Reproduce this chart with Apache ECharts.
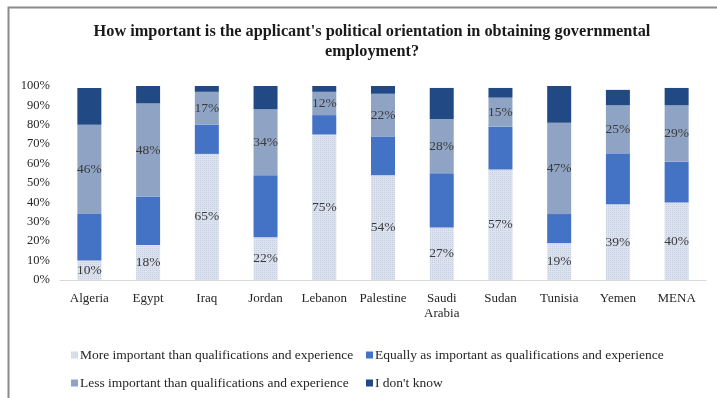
<!DOCTYPE html>
<html>
<head>
<meta charset="utf-8">
<script src="https://cdn.jsdelivr.net/npm/echarts@6/dist/echarts.min.js"></script>
<style>
html,body{margin:0;padding:0;background:#fff;}
#chart{width:717px;height:398px;}
</style>
</head>
<body>
<div id="chart"></div>
<script>
const categories = ['Algeria','Egypt','Iraq','Jordan','Lebanon','Palestine','Saudi\nArabia','Sudan','Tunisia','Yemen','MENA'];
const seriesNames = [
  'More important than qualifications and experience',
  'Equally as important as qualifications and experience',
  'Less important than qualifications and experience',
  "I don't know"
];
const moreImportant = [10,18,65,22,75,54,27,57,19,39,40];
const equallyImportant = [24,25,15,32,10,20,28,22,15,26,21];
const lessImportant = [46,48,17,34,12,22,28,15,47,25,29];
const dontKnow = [19,9,3,12,3,4,16,5,19,8,9];
const yTicks = [0,10,20,30,40,50,60,70,80,90,100];

const FONT = '"Liberation Serif", "DejaVu Serif", serif';
const colors = ['#dde3ee','#4472c4','#8fa4c4','#214a84'];

const chart = echarts.init(document.getElementById('chart'));

function mkSeries(i, data, showLabel){
  const s = {
    name: seriesNames[i],
    type: 'bar',
    stack: 'total',
    data: data,
    barWidth: 24,
    itemStyle: {color: colors[i]},
    label: {
      show: showLabel,
      position: 'inside',
      formatter: p => p.value + '%',
      fontFamily: FONT,
      fontSize: 13.5,
      color: '#3a3a3a'
    }
  };
  if (i === 0) {
    s.itemStyle.decal = {
      symbol: 'rect',
      symbolSize: 1,
      dashArrayX: [1, 1],
      dashArrayY: [1, 1],
      rotation: 0,
      color: 'rgba(170,182,205,0.45)'
    };
  }
  return s;
}

const legendBase = {
  icon: 'rect', itemWidth: 7, itemHeight: 7, itemGap: 10,
  textStyle: {fontFamily: FONT, fontSize: 13.5, color: '#262626', padding: [0,0,0,-3]}
};

chart.setOption({
  backgroundColor: '#fff',
  animation: false,
  title: {
    text: "How important is the applicant's political orientation in obtaining governmental\nemployment?",
    left: 367, top: 17, textAlign: 'center',
    textStyle: {fontFamily: FONT, fontSize: 16.3, fontWeight: 'bold', color: '#1a1a1a', lineHeight: 20}
  },
  legend: [
    Object.assign({data: [seriesNames[0]], left: 66, top: 343}, legendBase),
    Object.assign({data: [seriesNames[1]], left: 361, top: 343}, legendBase),
    Object.assign({data: [seriesNames[2]], left: 66, top: 371}, legendBase),
    Object.assign({data: [seriesNames[3]], left: 361, top: 371}, legendBase)
  ],
  grid: {left: 60, right: 11, top: 86, bottom: 118, containLabel: false},
  xAxis: {
    type: 'category',
    data: categories,
    axisLine: {lineStyle: {color: '#d9d9d9', width: 1}},
    axisTick: {show: false},
    axisLabel: {fontFamily: FONT, fontSize: 13, color: '#262626', margin: 11, lineHeight: 15, interval: 0}
  },
  yAxis: {
    type: 'value',
    min: yTicks[0], max: yTicks[yTicks.length-1], interval: 10,
    splitLine: {show: false},
    axisLine: {show: false},
    axisTick: {show: false},
    axisLabel: {fontFamily: FONT, fontSize: 12.5, color: '#262626', margin: 10, formatter: '{value}%'}
  },
  series: [
    mkSeries(0, moreImportant, true),
    mkSeries(1, equallyImportant, false),
    mkSeries(2, lessImportant, true),
    mkSeries(3, dontKnow, false)
  ],
  graphic: [{
    type: 'polyline',
    shape: {points: [[8.5, 398], [8.5, 7.5], [717, 7.5]]},
    style: {stroke: '#8a8a8a', lineWidth: 2, fill: null},
    silent: true
  }]
});
</script>
</body>
</html>
